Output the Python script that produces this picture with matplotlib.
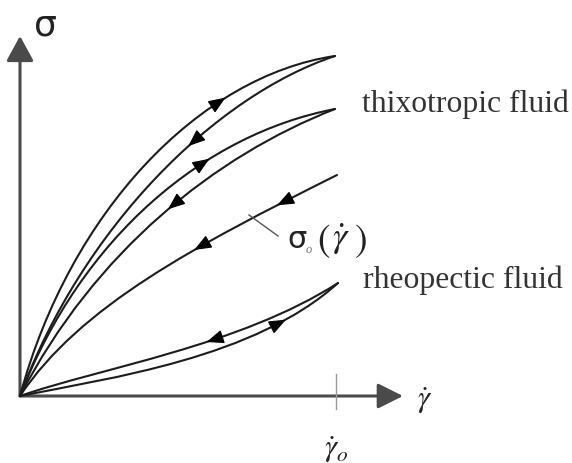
import numpy as np
import matplotlib.pyplot as plt
from matplotlib.path import Path
from matplotlib.patches import PathPatch, FancyArrowPatch, Polygon
from matplotlib.bezier import BezierSegment

# Flow-curve branches as cubic Bezier control points (shear rate, stress)
thixo_outer_up = [(0, 0), (50, 185), (180, 320), (315, 340)]
thixo_outer_down = [(0, 0), (62, 168), (195, 300), (315, 340)]
thixo_inner_up = [(0, 0), (62, 160), (185, 262), (315, 287)]
thixo_inner_down = [(0, 0), (75, 145), (195, 240), (315, 287)]
equilibrium = [(0, 0), (60, 90), (175, 150), (317, 221)]
rheo_down = [(0, 0), (80, 28), (220, 50), (318, 113)]
rheo_up = [(0, 0), (90, 18), (235, 38), (318, 113)]

# Arrow locations along each branch: (branch, shear rate, +1 forward / -1 backward)
arrows = [
    ("thixo_outer_up", 198, +1),
    ("thixo_outer_down", 175, -1),
    ("thixo_inner_up", 182, +1),
    ("thixo_inner_down", 155, -1),
    ("equilibrium", 182, -1),
    ("equilibrium", 265, -1),
    ("rheo_down", 195, -1),
    ("rheo_up", 258, +1),
]

branches = {
    "thixo_outer_up": thixo_outer_up,
    "thixo_outer_down": thixo_outer_down,
    "thixo_inner_up": thixo_inner_up,
    "thixo_inner_down": thixo_inner_down,
    "equilibrium": equilibrium,
    "rheo_down": rheo_down,
    "rheo_up": rheo_up,
}

gamma_o = 316          # reference shear rate marked on the axis
axis_x_end = 383
axis_y_end = 360

LINE = "#1c1c1c"
AXIS = "#4a4a4a"
TEXT = "#333333"
HEAD_LEN, HEAD_WID = 15.0, 12.0

plt.rcParams["mathtext.fontset"] = "stix"

fig = plt.figure(figsize=(5.72, 4.64), dpi=100)
ax = fig.add_axes([0, 0, 1, 1])
ax.set_xlim(-20, 552)
ax.set_ylim(-67, 397)
ax.set_aspect("equal")
ax.axis("off")

# axes with arrow heads
ax.add_patch(FancyArrowPatch((0, 0), (axis_x_end, 0), arrowstyle="-|>,head_length=1.1,head_width=0.55",
                             mutation_scale=14, color=AXIS, lw=2.2, shrinkA=0, shrinkB=0))
ax.add_patch(FancyArrowPatch((0, 0), (0, axis_y_end), arrowstyle="-|>,head_length=1.1,head_width=0.6",
                             mutation_scale=14, color=AXIS, lw=2.2, shrinkA=0, shrinkB=0))

# reference shear-rate tick
ax.plot([gamma_o, gamma_o], [-13, 22], color="#9a9a9a", lw=1.0)

codes = [Path.MOVETO, Path.CURVE4, Path.CURVE4, Path.CURVE4]
for pts in branches.values():
    ax.add_patch(PathPatch(Path(pts, codes), fill=False, edgecolor=LINE, lw=1.5,
                           capstyle="round"))

# direction arrows on the branches (filled triangles centred on the curve)
for name, xs, sense in arrows:
    seg = BezierSegment(np.array(branches[name], dtype=float))
    tt = np.linspace(0, 1, 2001)
    pts = seg(tt)
    i = int(np.argmin(np.abs(pts[:, 0] - xs)))
    p = pts[i]
    d = pts[min(i + 5, len(pts) - 1)] - pts[max(i - 5, 0)]
    d = sense * d / np.hypot(*d)
    n = np.array([-d[1], d[0]])
    tip = p + d * HEAD_LEN * 0.5
    b1 = p - d * HEAD_LEN * 0.5 + n * HEAD_WID * 0.5
    b2 = p - d * HEAD_LEN * 0.5 - n * HEAD_WID * 0.5
    ax.add_patch(Polygon([tip, b1, b2], closed=True, facecolor="black",
                         edgecolor="black", lw=0.8, joinstyle="miter"))

# axis labels
ax.text(25, 371, "σ", fontsize=26, family="DejaVu Sans", color="#222222",
        ha="center", va="center")
ax.text(405, -4, r"$\dot{\gamma}$", fontsize=22, color="#222222", ha="center", va="center")
ax.text(gamma_o, -60, r"$\dot{\gamma}_o$", fontsize=22, color="#222222",
        ha="center", va="baseline")

# fluid labels
ax.text(342, 285, "thixotropic fluid", fontsize=22.8, family="Liberation Serif",
        color=TEXT, ha="left", va="baseline")
ax.text(343, 109, "rheopectic fluid", fontsize=22.8, family="Liberation Serif",
        color=TEXT, ha="left", va="baseline")

# equilibrium curve label with leader
ax.plot([229, 258], [181, 160], color="#555555", lw=1.0)
ax.text(267, 149, "σ", fontsize=22, family="DejaVu Sans", color="#222222",
        ha="left", va="baseline")
ax.text(286, 144, "o", fontsize=9, family="Liberation Serif", style="italic",
        color="#777777", ha="left", va="baseline")
ax.text(297, 146, r"$($", fontsize=27, color="#222222", ha="left", va="baseline")
ax.text(321, 149, r"$\dot{\gamma}$", fontsize=26, color="#222222", ha="center", va="baseline")
ax.text(334, 146, r"$)$", fontsize=27, color="#222222", ha="left", va="baseline")

fig.savefig("out.png", dpi=100)
